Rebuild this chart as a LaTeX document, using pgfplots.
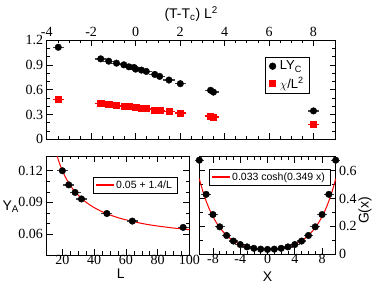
\documentclass[border=0pt]{standalone}
\usepackage{fontspec}
\setmainfont{Liberation Serif}
\setsansfont{Liberation Sans}
\usepackage{pgfplots}
\pgfplotsset{compat=1.18}
\pgfplotsset{
  grstyle/.style={
    scale only axis,
    tick align=inside,
    xtick pos=both, ytick pos=both,
    major tick length=6pt,
    minor tick length=3.5pt,
    every tick/.style={black, line width=0.6pt},
    axis line style={line width=0.8pt},
    tick label style={font=\fontsize{14}{16}\selectfont},
    label style={font=\sffamily\fontsize{14}{16}\selectfont},
    /pgf/number format/assume math mode=true,
    clip=false,
  },
  dat/.style={only marks, mark=*, mark size=3.3pt, black,
    mark options={draw=black, fill=black},
    error bars/.cd, x dir=both, x fixed=#1,
    error bar style={line width=1.3pt, draw=black!75}, error mark=none},
  rdat/.style={only marks, mark=square*, mark size=3.1pt, red,
    mark options={draw=red, fill=red},
    error bars/.cd, x dir=both, x fixed=#1,
    error bar style={line width=1.3pt, draw=red}, error mark=none},
}
\begin{document}
\begin{tikzpicture}
\useasboundingbox (0,0) rectangle (374pt,283pt);
% ---------------- top panel
\begin{axis}[grstyle,
  at={(46.7pt,143.7pt)}, anchor=south west,
  width=289pt, height=99.3pt,
  xmin=-4, xmax=9, ymin=0, ymax=1.2,
  xtick={-4,-2,0,2,4,6,8}, minor x tick num=3,
  ytick={0,0.3,0.6,0.9,1.2}, minor y tick num=2,
  xticklabel pos=upper,
  xlabel={(T-T\textsubscript{c}) L\textsuperscript{2}},
  xlabel style={at={(rel axis cs:0.5,1.0)}, anchor=center, yshift=26pt},
  legend style={at={(rel axis cs:0.911,0.832)}, anchor=north east,
    draw=black, line width=0.6pt, fill=white,
    font=\sffamily\fontsize{13}{15}\selectfont,
    inner xsep=4pt, inner ysep=2pt, row sep=2pt, column sep=2pt},
  legend cell align=left,
  legend image code/.code={\draw[#1] plot coordinates {(0pt,0pt)};},
]
\addplot+[dat=0.25] coordinates {
(-3.48,1.112) (-1.57,0.972) (-1.21,0.944) (-0.86,0.920) (-0.53,0.900)
(-0.30,0.876) (-0.07,0.868) (0.0,0.848) (0.26,0.836) (0.48,0.820)
(0.86,0.784) (1.08,0.760) (1.50,0.716) (2.01,0.672)
(3.37,0.592) (3.50,0.570) (8.0,0.343)};
\addlegendentry{LY\textsubscript{C}}
\addplot+[rdat=0.25] coordinates {
(-3.48,0.480) (-1.57,0.432) (-1.21,0.420) (-0.86,0.412) (-0.53,0.403)
(-0.30,0.396) (0.0,0.388) (0.26,0.380) (0.48,0.372) (0.86,0.356)
(1.08,0.348) (1.50,0.340) (2.01,0.316)
(3.37,0.283) (3.50,0.271) (8.0,0.180)};
\addlegendentry{$\chi$/L\textsuperscript{2}}
\end{axis}
% ---------------- bottom-left panel
\begin{axis}[grstyle,
  at={(46.5pt,28pt)}, anchor=south west,
  width=143pt, height=99pt,
  xmin=10, xmax=100, ymin=0.04, ymax=0.134,
  xtick={20,40,60,80,100}, minor x tick num=3,
  ytick={0.06,0.09,0.12}, minor y tick num=2,
  yticklabel style={/pgf/number format/.cd, fixed, fixed zerofill, precision=2},
  xticklabel style={yshift=3.5pt},
  xlabel={L},
  xlabel style={at={(rel axis cs:0.52,-0.19)}, anchor=center},
  ylabel={Y\textsubscript{A}},
  ylabel style={at={(rel axis cs:-0.25,0.485)}, rotate=-90, anchor=center},
  legend style={at={(rel axis cs:0.325,0.79)}, anchor=north west,
    fill=white, draw=black,
    font=\sffamily\fontsize{10.5}{12}\selectfont,
    inner xsep=3pt, inner ysep=1.5pt},
  legend image code/.code={\path[fill=red] (0pt,-0.6pt) rectangle (17pt,0.6pt);},
]
\addplot[red, line width=1pt, smooth] coordinates {
(16.7,0.1338) (18,0.1278) (20,0.1200) (22,0.1136) (25,0.1060) (28,0.1000)
(32,0.0938) (36,0.0889) (40,0.0850) (45,0.0811) (50,0.0780) (56,0.0750)
(64,0.0719) (72,0.0694) (80,0.0675) (90,0.0656) (100,0.0640)};
\addlegendentry{0.05 + 1.4/L}
\addplot+[forget plot, dat=3.5] coordinates {
(20,0.1200) (24,0.1066) (28,0.0994) (32,0.0932) (48,0.0794) (64,0.0722) (96,0.0662)};
\end{axis}
% ---------------- bottom-right panel
\begin{axis}[grstyle,
  at={(199.3pt,28.7pt)}, anchor=south west,
  width=136.4pt, height=97.6pt,
  xmin=-10, xmax=10, ymin=0, ymax=0.7,
  xtick={-8,-4,0,4,8}, minor x tick num=3,
  ytick={0,0.2,0.4,0.6}, minor y tick num=1,
  yticklabel pos=right,
  xticklabel style={yshift=3.5pt},
  xlabel={X},
  xlabel style={at={(rel axis cs:0.5,-0.225)}, anchor=center},
  ylabel={G(x)},
  ylabel style={at={(rel axis cs:1.215,0.45)}, rotate=0, anchor=center},
  legend style={at={(rel axis cs:0.071,0.875)}, anchor=north west,
    fill=white, draw=black,
    font=\sffamily\fontsize{10.5}{12}\selectfont,
    inner xsep=3pt, inner ysep=1.5pt},
  legend image code/.code={\path[fill=red] (0pt,-0.6pt) rectangle (17pt,0.6pt);},
]
\addplot[red, line width=1pt, smooth] coordinates {
(-10,0.5415) (-9.5,0.4550) (-9,0.3824) (-8.5,0.3213) (-8,0.2702) (-7.5,0.2273)
(-7,0.1913) (-6.5,0.1612) (-6,0.1360) (-5.5,0.1149) (-5,0.0974) (-4.5,0.0828)
(-4,0.0707) (-3.5,0.0608) (-3,0.0528) (-2.5,0.0464) (-2,0.0414) (-1.5,0.0376)
(-1,0.0350) (-0.5,0.0335) (0,0.0330) (0.5,0.0335) (1,0.0350) (1.5,0.0376)
(2,0.0414) (2.5,0.0464) (3,0.0528) (3.5,0.0608) (4,0.0707) (4.5,0.0828)
(5,0.0974) (5.5,0.1149) (6,0.1360) (6.5,0.1612) (7,0.1913) (7.5,0.2273)
(8,0.2702) (8.5,0.3213) (9,0.3824) (9.5,0.4550) (10,0.5415)};
\addlegendentry{0.033 cosh(0.349 x)}
\addplot+[forget plot, dat=0.7] coordinates {
(-10,0.675) (-9,0.430) (-8,0.285) (-7,0.197) (-6,0.135) (-5,0.095) (-4,0.070)
(-3,0.053) (-2,0.043) (-1,0.037) (0,0.035) (1,0.037) (2,0.043) (3,0.053)
(4,0.070) (5,0.095) (6,0.135) (7,0.197) (8,0.285) (9,0.430) (10,0.675)};
\end{axis}
\end{tikzpicture}
\end{document}
